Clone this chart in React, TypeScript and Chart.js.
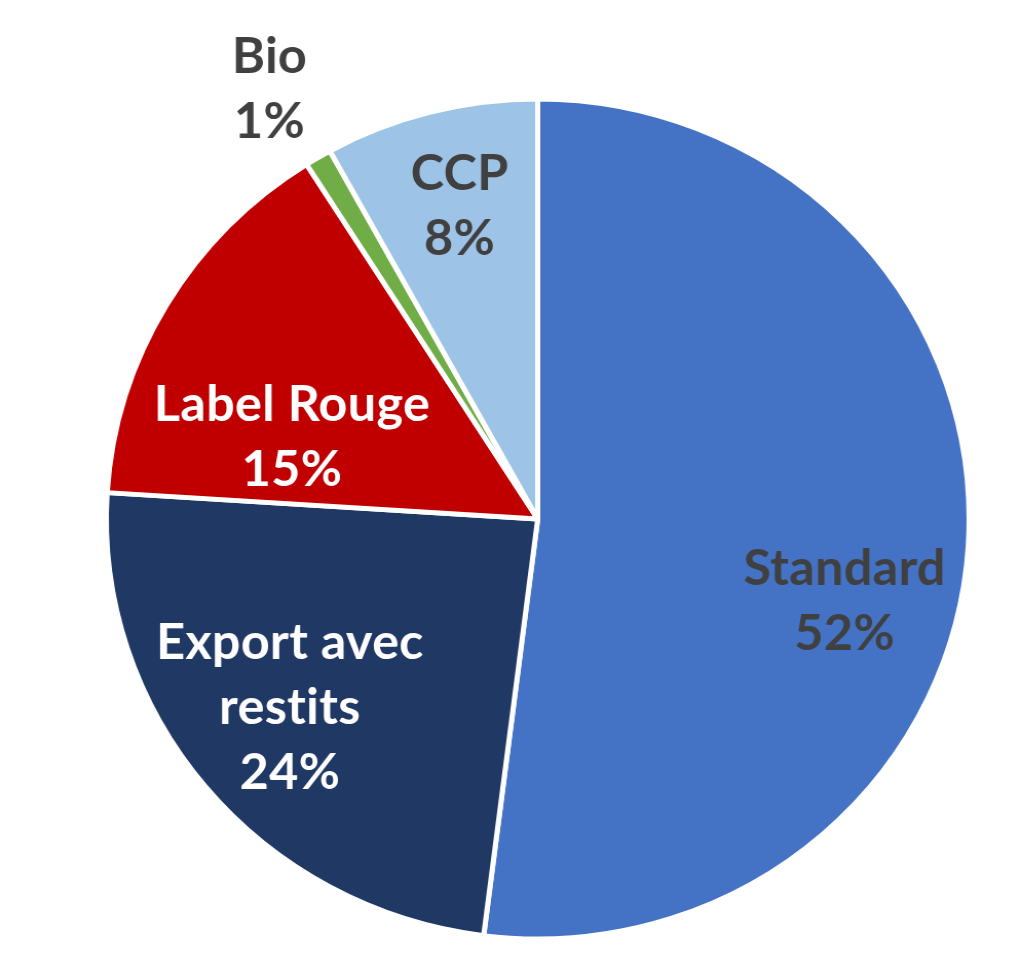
import React, { useEffect, useRef } from "react";
import { Chart, registerables } from "chart.js";

Chart.register(...registerables);

const categories = ["Standard", "Export avec restits", "Label Rouge", "Bio", "CCP"];
const labelLines = [["Standard"], ["Export avec", "restits"], ["Label Rouge"], ["Bio"], ["CCP"]];
const shares = [52, 24, 15, 1, 8];
const sliceColors = ["#4472C4", "#203864", "#C00000", "#70AD47", "#9DC3E6"];
const textColors = ["#404040", "#FFFFFF", "#FFFFFF", "#404040", "#404040"];
// label anchor: fraction of the radius, angle (deg, clockwise from top)
const labelRadius = [0.737, 0.727, 0.603, 1.2, 0.77];
const labelAngle = [105.2, 232.2, 289.1, 328.8, 346.4];

const FONT_SIZE = 49;
const LINE_H = 65;

const labelPlugin = {
  id: "sliceLabels",
  afterDatasetsDraw(chart: any) {
    const meta = chart.getDatasetMeta(0);
    const ctx = chart.ctx;
    ctx.save();
    ctx.font = `bold ${FONT_SIZE}px Lato`;
    try {
      (ctx as any).letterSpacing = "0.3px";
    } catch (e) {}
    ctx.textAlign = "center";
    ctx.textBaseline = "alphabetic";
    const capHalf = (FONT_SIZE * 0.7165) / 2;
    meta.data.forEach((arc: any, i: number) => {
      const { x, y, outerRadius } = arc.getProps(["x", "y", "outerRadius"], true);
      const a = (labelAngle[i] * Math.PI) / 180;
      const r = outerRadius * labelRadius[i];
      const px = x + Math.sin(a) * r;
      const py = y - Math.cos(a) * r;
      const lines = [...labelLines[i], `${shares[i]}%`];
      const n = lines.length;
      ctx.fillStyle = textColors[i];
      lines.forEach((t, j) => {
        const cy = py - ((n - 1) * LINE_H) / 2 + j * LINE_H;
        ctx.fillText(t, px, cy + capHalf);
      });
    });
    ctx.restore();
  },
};

export default function App() {
  const ref = useRef<HTMLCanvasElement | null>(null);
  useEffect(() => {
    if (!ref.current) return;
    const chart = new Chart(ref.current, {
      type: "pie",
      data: {
        labels: categories,
        datasets: [
          {
            data: shares,
            backgroundColor: sliceColors,
            borderColor: "#FFFFFF",
            borderWidth: 5,
          },
        ],
      },
      options: {
        responsive: false,
        animation: false,
        radius: 420,
        layout: { padding: { left: 53, top: 61, right: 0, bottom: 0 } },
        plugins: {
          legend: { display: false },
          tooltip: { enabled: false },
        },
      } as any,
      plugins: [labelPlugin],
    });
    return () => chart.destroy();
  }, []);
  return (
    <div style={{ position: "absolute", left: 0, top: 0, width: 1021, height: 977, background: "#fff" }}>
      <canvas
        ref={ref}
        width={994}
        height={977}
        style={{ width: "1021px", height: "977px", display: "block" }}
      />
    </div>
  );
}
